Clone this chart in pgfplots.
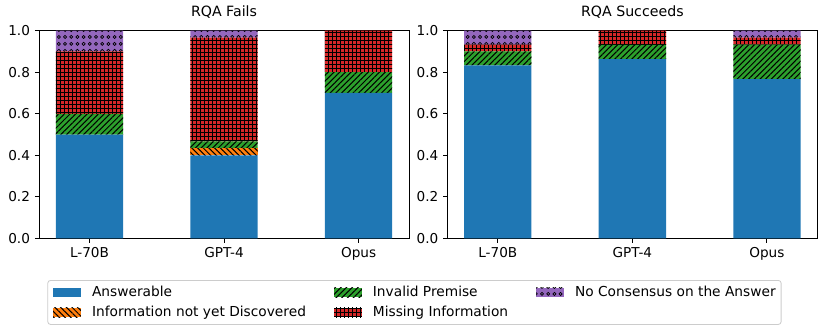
\documentclass[border=0pt]{standalone}
\usepackage{pgfplots}
\pgfplotsset{compat=1.18}
\usepackage{fontspec}
\setmainfont{DejaVu Sans}
\usetikzlibrary{patterns,patterns.meta}
\definecolor{cA}{HTML}{1F77B4}
\definecolor{cB}{HTML}{FF7F0E}
\definecolor{cC}{HTML}{2CA02C}
\definecolor{cD}{HTML}{D62728}
\definecolor{cE}{HTML}{9467BD}
\definecolor{legframe}{RGB}{204,204,204}
\pgfdeclarepatternformonly{ocirc}{\pgfqpoint{-1pt}{-1pt}}{\pgfqpoint{5.5pt}{6pt}}{\pgfqpoint{4.46pt}{5pt}}{%
  \pgfsetlinewidth{0.5pt}%
  \pgfpathcircle{\pgfqpoint{2.23pt}{2.5pt}}{1.1pt}%
  \pgfusepath{stroke}}
\tikzset{
  sA/.style={fill=cA, draw=none},
  sB/.style={fill=cB, draw=none, postaction={pattern={Lines[angle=-45,distance=2.9pt,line width=0.75pt]}, pattern color=black}},
  sC/.style={fill=cC, draw=none, postaction={pattern={Lines[angle=45,distance=2.9pt,line width=0.75pt]}, pattern color=black}},
  sD/.style={fill=cD, draw=none, postaction={pattern={Hatch[angle=0,distance=2.88pt,line width=0.5pt]}, pattern color=black}},
  sE/.style={fill=cE, draw=none, postaction={pattern=ocirc, pattern color=black}},
}
\pgfplotsset{
  panel/.style={
    width=266.4pt, height=149.5pt, scale only axis,
    ybar stacked, bar width=0.5,
    xmin=-0.375, xmax=2.375, ymin=0, ymax=1,
    xtick={0,1,2}, xticklabels={L-70B,GPT-4,Opus},
    ytick={0,0.2,0.4,0.6,0.8,1.0},
    yticklabel style={/pgf/number format/.cd, fixed, fixed zerofill, precision=1},
    /pgf/number format/assume math mode=true,
    tick align=outside, tick pos=left,
    major tick length=3pt,
    tick style={black, line width=0.6pt},
    axis line style={black, line width=0.6pt},
    ticklabel style={font=\fontsize{9.8}{11}\selectfont},
    title style={font=\fontsize{10.2}{12}\selectfont, at={(0.5,1)}, anchor=base, yshift=4.3pt},
  }
}
\begin{document}
\begin{tikzpicture}
\path[use as bounding box] (-28.1pt,-67.5pt) rectangle (569.5pt,171.6pt);
\begin{axis}[panel, at={(0pt,0pt)}, anchor=south west, title={RQA Fails},
  legend columns=3,
  legend image code/.code={\path[#1, sharp corners, draw=none] (0pt,-3.35pt) rectangle (20pt,3.35pt);},
  legend style={at={(0.0225,-0.2007)}, anchor=north west,
    draw=legframe, rounded corners=2pt, line width=0.6pt,
    font=\fontsize{9.9}{12}\selectfont,
    inner xsep=3.9pt, inner ysep=2.75pt,
    /tikz/every odd column/.append style={column sep=8.0pt},
    /tikz/every even column/.append style={column sep=20.2pt},
    row sep=2.6pt,
    nodes={inner xsep=0pt, inner ysep=1pt, text height=7.5pt, text depth=2.3pt},
  },
  legend cell align=left,
]
\addplot[sA, forget plot] coordinates {(0,0.5) (1,0.4) (2,0.7)};
\addplot[sB, forget plot] coordinates {(0,0) (1,0.0333) (2,0)};
\addplot[sC, forget plot] coordinates {(0,0.1) (1,0.0333) (2,0.1)};
\addplot[sD, forget plot] coordinates {(0,0.3) (1,0.5) (2,0.2)};
\addplot[sE, forget plot] coordinates {(0,0.1) (1,0.0334) (2,0)};
\addlegendimage{sA}\addlegendentry{Answerable}
\addlegendimage{sC}\addlegendentry{Invalid Premise}
\addlegendimage{sE}\addlegendentry{No Consensus on the Answer}
\addlegendimage{sB}\addlegendentry{Information not yet Discovered}
\addlegendimage{sD}\addlegendentry{Missing Information}
\end{axis}
\begin{axis}[panel, at={(294pt,0pt)}, anchor=south west, title={RQA Succeeds}]
\addplot[sA] coordinates {(0,0.8333) (1,0.8636) (2,0.7667)};
\addplot[sB] coordinates {(0,0) (1,0) (2,0)};
\addplot[sC] coordinates {(0,0.0667) (1,0.0682) (2,0.1667)};
\addplot[sD] coordinates {(0,0.0333) (1,0.0682) (2,0.0333)};
\addplot[sE] coordinates {(0,0.0667) (1,0) (2,0.0333)};
\end{axis}
\end{tikzpicture}
\end{document}
